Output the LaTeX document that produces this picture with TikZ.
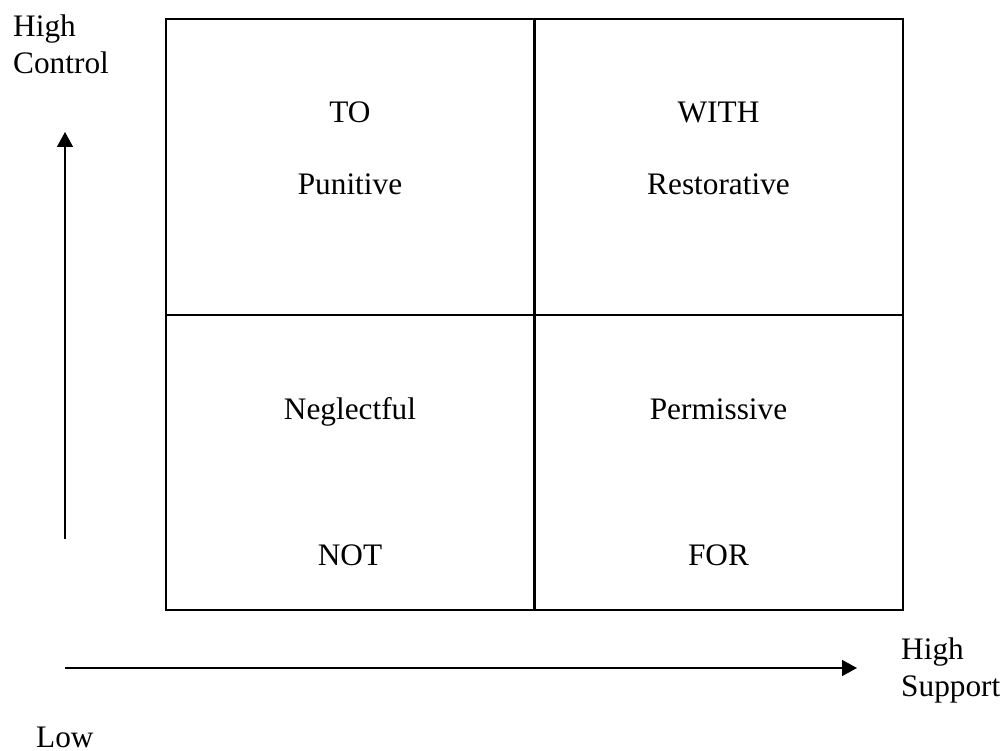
\documentclass[tikz,border=0pt]{standalone}
\usepackage{fontspec}
\setmainfont{Liberation Serif}
\usetikzlibrary{arrows.meta}
\begin{document}
\begin{tikzpicture}[x=1pt,y=-1pt,
  cell/.style={draw=black,line width=2pt,minimum width=368pt,minimum height=296pt,inner sep=0pt,outer sep=0pt},
  lbl/.style={inner sep=0pt,font=\fontsize{31.3}{37}\selectfont},
  axis/.style={line width=1.5pt,-{Triangle[length=15pt,width=16pt]}}]
\useasboundingbox (0,0) rectangle (1005,751);
% grid cells
\node[cell] (tl) at (350,167) {};
\node[cell] (tr) at (718.5,167) {};
\node[cell,minimum height=295pt] (bl) at (350,462.5) {};
\node[cell,minimum height=295pt] (br) at (718.5,462.5) {};
% cell texts
\node[lbl,anchor=base] (to) at (350,123) {TO};
\node[lbl,anchor=base] (pun) at (350,195) {Punitive};
\node[lbl,anchor=base] (with) at (718.5,123) {WITH};
\node[lbl,anchor=base] (res) at (718.5,195) {Restorative};
\node[lbl,anchor=base] (neg) at (350,420) {Neglectful};
\node[lbl,anchor=base] (per) at (718.5,420) {Permissive};
\node[lbl,anchor=base] (not) at (350,565) {NOT};
\node[lbl,anchor=base] (for) at (718.5,565) {FOR};
% axis labels
\node[lbl,anchor=base west] (hc1) at (13,37) {High};
\node[lbl,anchor=base west] (hc2) at (13,74) {Control};
\node[lbl,anchor=base west] (hs1) at (901,659) {High};
\node[lbl,anchor=base west] (hs2) at (901,696) {Support};
\node[lbl,anchor=base west] (low) at (36,747) {Low};
% axes
\coordinate (vs) at (65,539);
\coordinate (ve) at (65,132);
\coordinate (hs) at (65,668);
\coordinate (he) at (857,668);
\draw[axis] (vs) -- (ve);
\draw[axis] (hs) -- (he);
\end{tikzpicture}
\end{document}
